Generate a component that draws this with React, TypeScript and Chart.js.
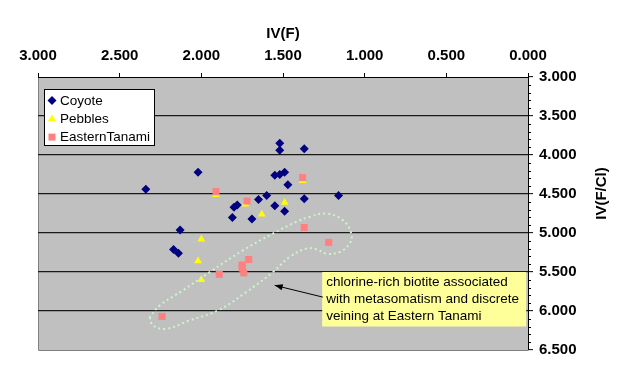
import React, { useEffect, useRef } from "react";
import { Chart, registerables } from "chart.js";

Chart.register(...registerables);

const FONT = '"Liberation Sans", Arial, Helvetica, sans-serif';

// ---- data (x = IV(F), y = IV(F/Cl)) ----
const coyoteX = [2.34, 2.02, 2.13, 2.17, 2.14, 1.52, 1.52, 1.37, 1.55, 1.52, 1.49, 1.47, 1.16, 1.37, 1.6, 1.65, 1.78, 1.8, 1.55, 1.49, 1.81, 1.69];
const coyoteY = [4.44, 4.22, 4.96, 5.21, 5.26, 3.85, 3.94, 3.92, 4.26, 4.25, 4.22, 4.38, 4.52, 4.56, 4.52, 4.57, 4.64, 4.67, 4.65, 4.72, 4.8, 4.82];

const pebblesX = [2.0, 2.02, 2.0, 1.91, 1.73, 1.38, 1.49, 1.63];
const pebblesY = [5.08, 5.36, 5.6, 4.51, 4.63, 4.33, 4.61, 4.76];

const tanamiX = [1.91, 1.72, 1.38, 1.37, 1.22, 1.89, 1.75, 1.71, 1.74, 1.75, 2.24];
const tanamiY = [4.47, 4.59, 4.29, 4.93, 5.12, 5.53, 5.41, 5.34, 5.51, 5.45, 6.07];

// dotted outline around the Eastern Tanami chlorine-rich group
const loopX = [2.316, 2.296, 2.214, 2.072, 1.898, 1.725, 1.562, 1.46, 1.357, 1.296, 1.235, 1.154, 1.092, 1.082, 1.133, 1.235, 1.337, 1.419, 1.562, 1.745, 1.949, 2.113, 2.255, 2.316];
const loopY = [6.079, 6.185, 6.228, 6.121, 5.993, 5.758, 5.501, 5.308, 5.2, 5.209, 5.264, 5.244, 5.136, 5.007, 4.837, 4.751, 4.794, 4.858, 5.007, 5.222, 5.501, 5.736, 5.929, 6.079];

const xTickValues = [3, 2.5, 2, 1.5, 1, 0.5, 0];
const yTickValues = [3, 3.5, 4, 4.5, 5, 5.5, 6, 6.5];

const xTitle = "IV(F)";
const yTitle = "IV(F/Cl)";
const noteLines = [
  "chlorine-rich biotite associated",
  "with metasomatism and discrete",
  "veining at Eastern Tanami",
];
// note anchor (data coords): top-left of box, and arrow tail/head
const noteAt = { x: 1.26, y: 5.5 };
const arrowFrom = { x: 1.256, y: 5.822 };
const arrowTo = { x: 1.551, y: 5.671 };

const pts = (xs: number[], ys: number[]) => xs.map((x, i) => ({ x, y: ys[i] }));

function drawMarker(ctx: CanvasRenderingContext2D, style: string, x: number, y: number, color: string) {
  ctx.save();
  ctx.fillStyle = color;
  ctx.beginPath();
  if (style === "rectRot") {
    const r = 4.5;
    ctx.moveTo(x - r, y);
    ctx.lineTo(x, y - r);
    ctx.lineTo(x + r, y);
    ctx.lineTo(x, y + r);
    ctx.closePath();
  } else if (style === "triangle") {
    const r = 4.5;
    for (let k = 0; k < 3; k++) {
      const a = (k * 2 * Math.PI) / 3;
      const px = x + Math.sin(a) * r;
      const py = y - Math.cos(a) * r;
      if (k === 0) ctx.moveTo(px, py);
      else ctx.lineTo(px, py);
    }
    ctx.closePath();
  } else {
    const s = 3.5;
    ctx.rect(x - s, y - s, 2 * s, 2 * s);
  }
  ctx.fill();
  ctx.restore();
}

const backgroundPlugin = {
  id: "plotBg",
  beforeDraw(chart: any) {
    const { ctx, chartArea: a } = chart;
    ctx.save();
    ctx.fillStyle = "#c0c0c0";
    ctx.fillRect(a.left, a.top, a.right - a.left, a.bottom - a.top);
    ctx.strokeStyle = "#808080";
    ctx.lineWidth = 1;
    ctx.beginPath();
    ctx.moveTo(a.left + 0.5, a.top);
    ctx.lineTo(a.left + 0.5, a.bottom + 0.5);
    ctx.lineTo(a.right, a.bottom + 0.5);
    ctx.stroke();
    ctx.restore();
  },
};

const overlayPlugin = {
  id: "overlay",
  afterDraw(chart: any) {
    const { ctx, chartArea: a } = chart;
    const xs = chart.scales.x;
    const ys = chart.scales.y;
    ctx.save();

    // minor ticks on right axis
    ctx.strokeStyle = "#000";
    ctx.lineWidth = 1;
    ctx.beginPath();
    for (let i = 0; i < yTickValues.length - 1; i++) {
      for (let k = 1; k < 5; k++) {
        const v = yTickValues[i] + (k * (yTickValues[i + 1] - yTickValues[i])) / 5;
        const py = Math.round(ys.getPixelForValue(v)) + 0.5;
        ctx.moveTo(a.right, py);
        ctx.lineTo(a.right + 3, py);
      }
    }
    ctx.stroke();

    // right axis title (reads bottom to top)
    ctx.save();
    ctx.translate(602, (a.top + a.bottom) / 2 - 20);
    ctx.rotate(-Math.PI / 2);
    ctx.fillStyle = "#000";
    ctx.font = `bold 15px ${FONT}`;
    ctx.textAlign = "center";
    ctx.textBaseline = "middle";
    ctx.fillText(yTitle, 0, 0);
    ctx.restore();

    // legend
    const lx = a.left + 6;
    const ly = a.top + 12;
    ctx.fillStyle = "#ffffff";
    ctx.fillRect(lx, ly, 110, 56);
    ctx.strokeStyle = "#000";
    ctx.strokeRect(lx + 0.5, ly + 0.5, 110, 56);
    ctx.font = `13.5px ${FONT}`;
    ctx.textBaseline = "middle";
    ctx.textAlign = "left";
    const legendSets = chart.data.datasets.filter((d: any) => d.label && !d.hideInLegend);
    legendSets.forEach((d: any, i: number) => {
      const cy = ly + 11.5 + i * 18.3;
      drawMarker(ctx, d.pointStyle, lx + 8, cy, d.backgroundColor);
      ctx.fillStyle = "#000";
      ctx.fillText(d.label, lx + 16, cy + 0.5);
    });

    // note box
    const bx = xs.getPixelForValue(noteAt.x);
    const by = ys.getPixelForValue(noteAt.y);
    const bw = 204;
    const bh = 54.5;
    ctx.fillStyle = "#ffff99";
    ctx.fillRect(bx, by, bw, bh);
    ctx.fillStyle = "#000";
    ctx.font = `13.5px ${FONT}`;
    noteLines.forEach((t, i) => ctx.fillText(t, bx + 4, by + 10.5 + i * 16.8));

    // arrow
    const x0 = xs.getPixelForValue(arrowFrom.x);
    const y0 = ys.getPixelForValue(arrowFrom.y);
    const x1 = xs.getPixelForValue(arrowTo.x);
    const y1 = ys.getPixelForValue(arrowTo.y);
    ctx.strokeStyle = "#000";
    ctx.lineWidth = 1;
    ctx.beginPath();
    ctx.moveTo(x0, y0);
    ctx.lineTo(x1, y1);
    ctx.stroke();
    const ang = Math.atan2(y1 - y0, x1 - x0);
    ctx.beginPath();
    ctx.moveTo(x1, y1);
    ctx.lineTo(x1 - 8 * Math.cos(ang) + 3 * Math.sin(ang), y1 - 8 * Math.sin(ang) - 3 * Math.cos(ang));
    ctx.lineTo(x1 - 8 * Math.cos(ang) - 3 * Math.sin(ang), y1 - 8 * Math.sin(ang) + 3 * Math.cos(ang));
    ctx.closePath();
    ctx.fillStyle = "#000";
    ctx.fill();

    ctx.restore();
  },
};

export default function App() {
  const ref = useRef<HTMLCanvasElement>(null);

  useEffect(() => {
    document.body.style.margin = "0";
    const canvas = ref.current;
    if (!canvas) return;
    const tickFont = { family: FONT, size: 15, weight: "bold" as const };
    const chart = new Chart(canvas, {
      type: "scatter",
      data: {
        datasets: [
          {
            label: "Coyote",
            data: pts(coyoteX, coyoteY),
            pointStyle: "rectRot",
            pointRadius: 4.5,
            pointHoverRadius: 4.5,
            backgroundColor: "#000080",
            borderColor: "#000080",
            borderWidth: 0,
            order: 3,
          },
          {
            label: "Pebbles",
            data: pts(pebblesX, pebblesY),
            pointStyle: "triangle",
            pointRadius: 4.5,
            pointHoverRadius: 4.5,
            backgroundColor: "#ffff00",
            borderColor: "#ffff00",
            borderWidth: 0,
            order: 2,
          },
          {
            label: "EasternTanami",
            data: pts(tanamiX, tanamiY),
            pointStyle: "rect",
            pointRadius: 5,
            pointHoverRadius: 5,
            backgroundColor: "#ff8080",
            borderColor: "#ff8080",
            borderWidth: 0,
            order: 1,
          },
          {
            label: "",
            hideInLegend: true,
            data: pts(loopX, loopY),
            showLine: true,
            pointRadius: 0,
            borderColor: "#ccf5cc",
            borderWidth: 2,
            borderDash: [2, 3],
            tension: 0.4,
            fill: false,
            order: 0,
          } as any,
        ],
      },
      options: {
        animation: false,
        responsive: false,
        devicePixelRatio: 1,
        events: [],
        layout: { padding: { left: 38, right: 0, top: 0, bottom: 39 } },
        plugins: {
          legend: { display: false },
          tooltip: { enabled: false },
        },
        scales: {
          x: {
            type: "linear",
            position: "top",
            reverse: true,
            min: 0,
            max: 3,
            afterBuildTicks: (s: any) => {
              s.ticks = xTickValues.map((v) => ({ value: v }));
            },
            ticks: {
              font: tickFont,
              color: "#000",
              padding: 8,
              maxRotation: 0,
              autoSkip: false,
              callback: (v: any) => Number(v).toFixed(3),
            },
            grid: { drawOnChartArea: false, drawTicks: true, tickLength: 4, color: "#000", tickColor: "#000" },
            border: { display: true, color: "#000", width: 1 },
            title: { display: true, text: xTitle, font: tickFont, color: "#000", padding: { top: 25, bottom: 0 } },
            afterFit: (s: any) => {
              s.height = 77;
            },
          },
          y: {
            type: "linear",
            position: "right",
            reverse: true,
            min: 3,
            max: 6.5,
            afterBuildTicks: (s: any) => {
              s.ticks = yTickValues.map((v) => ({ value: v }));
            },
            ticks: {
              font: tickFont,
              color: "#000",
              padding: 6,
              autoSkip: false,
              callback: (v: any) => Number(v).toFixed(3),
            },
            grid: {
              color: (c: any) => (c.tick && (c.tick.value === 3 || c.tick.value === 6.5) ? "rgba(0,0,0,0)" : "#1a1a1a"),
              lineWidth: 1.3,
              tickColor: "#000",
              tickLength: 5,
              tickWidth: 1,
            },
            border: { display: true, color: "#000", width: 1 },
            title: { display: false },
            afterFit: (s: any) => {
              s.width = 100;
            },
          },
        },
      } as any,
      plugins: [backgroundPlugin, overlayPlugin],
    });
    return () => chart.destroy();
  }, []);

  return (
    <div style={{ width: 628, height: 389, background: "#fff" }}>
      <canvas ref={ref} width={628} height={389} style={{ display: "block" }} />
    </div>
  );
}
